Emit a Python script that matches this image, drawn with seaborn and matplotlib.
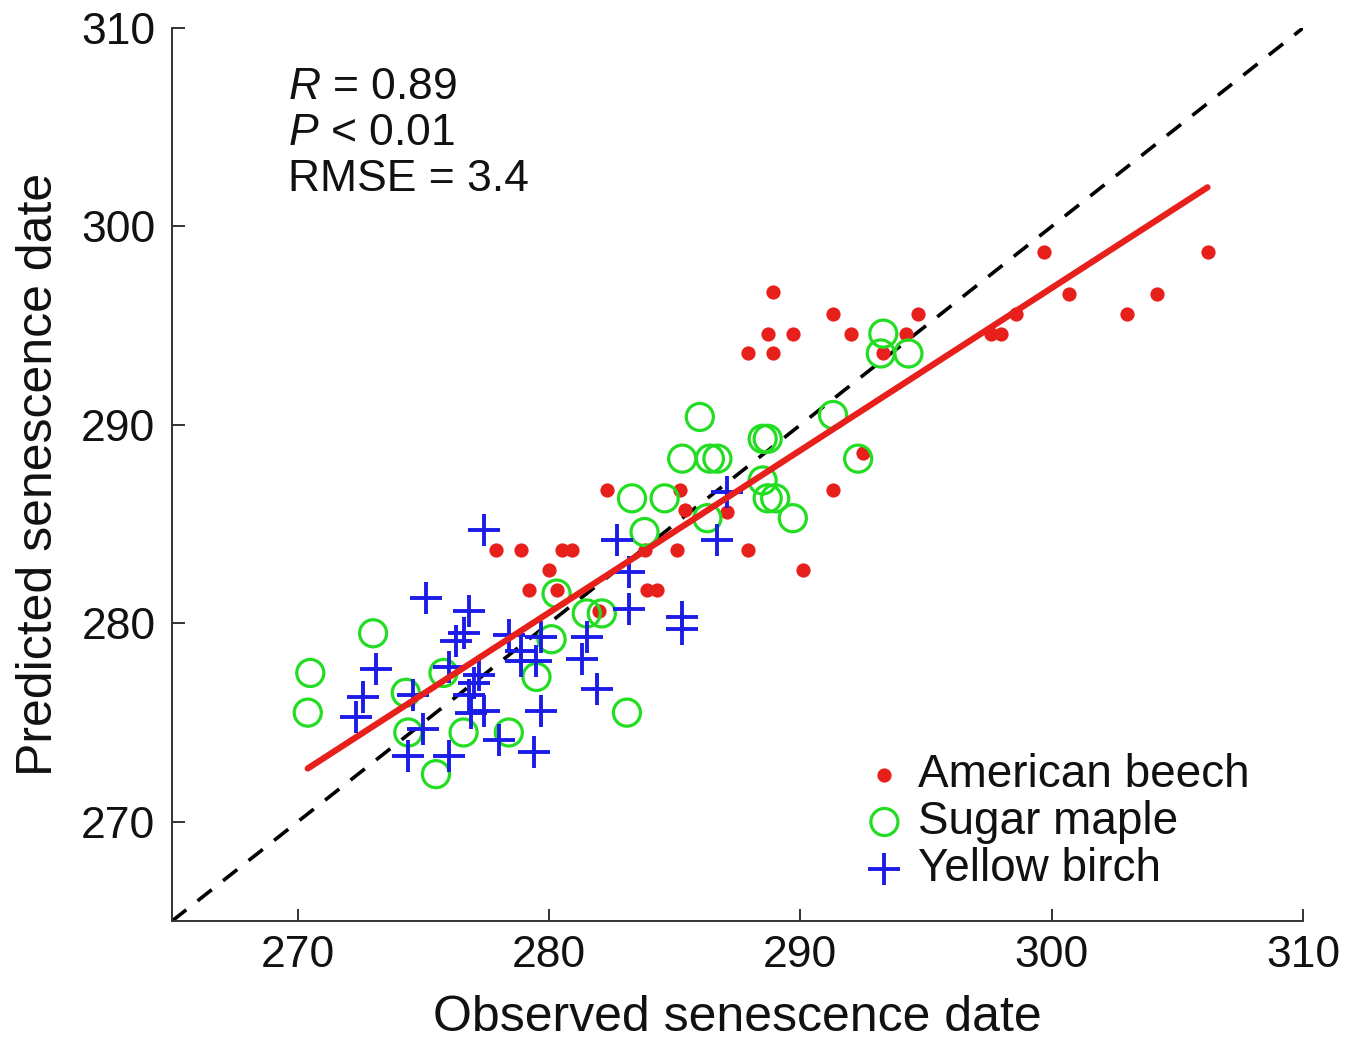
import numpy as np
import pandas as pd
import matplotlib
matplotlib.use("Agg")
import matplotlib.pyplot as plt
import seaborn as sns

# values
beech_obs = [277.9, 278.9, 280.5, 280.9, 280.0, 279.2, 280.3, 282.0, 282.3, 283.9,
             284.3, 283.8, 285.1, 285.2, 285.4, 287.1, 287.9, 290.1, 291.3, 292.5,
             287.9, 288.9, 288.7, 289.7, 288.9, 291.3, 292.0, 294.7, 294.2, 293.3,
             297.6, 298.0, 298.6, 299.7, 300.7, 303.0, 304.2, 306.2]
beech_pred = [283.7, 283.7, 283.7, 283.7, 282.7, 281.7, 281.7, 280.6, 286.7, 281.7,
              281.7, 283.7, 283.7, 286.7, 285.7, 285.6, 283.7, 282.7, 286.7, 288.6,
              293.6, 293.6, 294.6, 294.6, 296.7, 295.6, 294.6, 295.6, 294.6, 293.6,
              294.6, 294.6, 295.6, 298.7, 296.6, 295.6, 296.6, 298.7]

maple_obs = [270.5, 270.4, 273.0, 274.3, 274.4, 275.5, 276.6, 278.4, 275.8, 279.5,
             280.1, 280.3, 281.5, 282.1, 283.1, 283.3, 283.8, 284.6, 285.3, 286.0,
             286.4, 286.7, 286.3, 288.5, 288.7, 288.5, 288.7, 289.0, 289.7, 291.3,
             292.3, 293.3, 293.2, 294.3]
maple_pred = [277.5, 275.5, 279.5, 276.5, 274.5, 272.4, 274.5, 274.5, 277.5, 277.3,
              279.2, 281.5, 280.5, 280.5, 275.5, 286.3, 284.6, 286.3, 288.3, 290.4,
              288.3, 288.3, 285.3, 289.3, 289.3, 287.2, 286.3, 286.3, 285.3, 290.5,
              288.3, 294.6, 293.6, 293.6]

birch_obs = [277.4, 275.1, 276.8, 276.6, 276.3, 273.1, 276.0, 277.2, 272.6, 272.3,
             274.6, 276.8, 276.9, 275.0, 274.4, 276.0, 277.4, 278.0, 279.4, 279.7,
             278.4, 279.7, 278.9, 279.5, 281.5, 281.3, 281.9, 282.7, 283.2, 283.2,
             285.3, 285.3, 286.7, 287.1, 277.0, 278.9]
birch_pred = [284.7, 281.3, 280.6, 279.5, 279.1, 277.7, 277.8, 277.4, 276.3, 275.3,
              276.4, 276.4, 275.5, 274.7, 273.3, 273.3, 275.6, 274.1, 273.5, 275.6,
              279.4, 279.3, 278.1, 278.1, 279.3, 278.2, 276.7, 284.2, 282.6, 280.7,
              280.3, 279.7, 284.2, 286.6, 277.0, 278.6]

species = ["American beech", "Sugar maple", "Yellow birch"]
fit_slope = 0.818
fit_intercept = 51.5
stats_lines = [r"$\it{R}$ = 0.89", r"$\it{P}$ < 0.01", "RMSE = 3.4"]
ticks = [270, 280, 290, 300, 310]

df = pd.concat([
    pd.DataFrame({"obs": beech_obs, "pred": beech_pred, "species": species[0]}),
    pd.DataFrame({"obs": maple_obs, "pred": maple_pred, "species": species[1]}),
    pd.DataFrame({"obs": birch_obs, "pred": birch_pred, "species": species[2]}),
])

sns.set_style("ticks")
plt.rcParams["font.family"] = ["Liberation Sans", "DejaVu Sans"]
plt.rcParams["mathtext.fontset"] = "custom"
plt.rcParams["mathtext.rm"] = "Liberation Sans"
plt.rcParams["mathtext.it"] = "Liberation Sans:italic"
plt.rcParams["text.color"] = "#111111"
plt.rcParams["axes.labelcolor"] = "#111111"
plt.rcParams["xtick.labelcolor"] = "#111111"
plt.rcParams["ytick.labelcolor"] = "#111111"

red = "#e8201c"
green = "#22dd22"
blue = "#1c1ce8"

fig = plt.figure(figsize=(13.59, 10.46), dpi=100)
ax = fig.add_axes([0.1266, 0.1195, 0.8322, 0.8537])

# 1:1 line
ax.plot([265, 310], [265, 310], color="black", lw=2.6, ls=(0, (5, 4)), zorder=1)

d = df[df.species == species[0]]
sns.scatterplot(x=d.obs, y=d.pred, ax=ax, marker="o", s=105, color=red,
                edgecolor=red, linewidth=0, label=species[0], zorder=3)
d = df[df.species == species[1]]
sns.scatterplot(x=d.obs, y=d.pred, ax=ax, marker="o", s=380, color=green,
                facecolor="none", edgecolor=green, linewidth=2.3,
                label=species[1], zorder=3)
d = df[df.species == species[2]]
sns.scatterplot(x=d.obs, y=d.pred, ax=ax, marker="+", s=560, color=blue,
                linewidth=2.8, label=species[2], zorder=3)

# regression line
xs = np.array([df.obs.min(), df.obs.max()])
ax.plot(xs, fit_slope * xs + fit_intercept, color=red, lw=4.5, zorder=4)

for i, t in enumerate(stats_lines):
    ax.text(269.6, 307.0 - i * 2.32, t, fontsize=32, va="center", ha="left")

ax.set_xlim(265, 310)
ax.set_ylim(265, 310)
ax.set_xticks(ticks)
ax.set_yticks(ticks)
ax.tick_params(direction="in", length=9, width=1.4, labelsize=32, color="#333333")
ax.tick_params(axis="y", pad=12)
ax.tick_params(axis="x", pad=10)
sns.despine(ax=ax)
for s in ["left", "bottom"]:
    ax.spines[s].set_linewidth(1.4)
    ax.spines[s].set_color("#333333")

ax.set_xlabel("Observed senescence date", fontsize=36, labelpad=14)
ax.set_ylabel("Predicted senescence date", fontsize=36, labelpad=14)

ax.legend(loc="lower right", frameon=False, fontsize=33, handletextpad=0.1,
          labelspacing=0.07, borderaxespad=0.6, handlelength=1.25,
          bbox_to_anchor=(0.993, -0.018))

fig.savefig("out.png", dpi=100)
